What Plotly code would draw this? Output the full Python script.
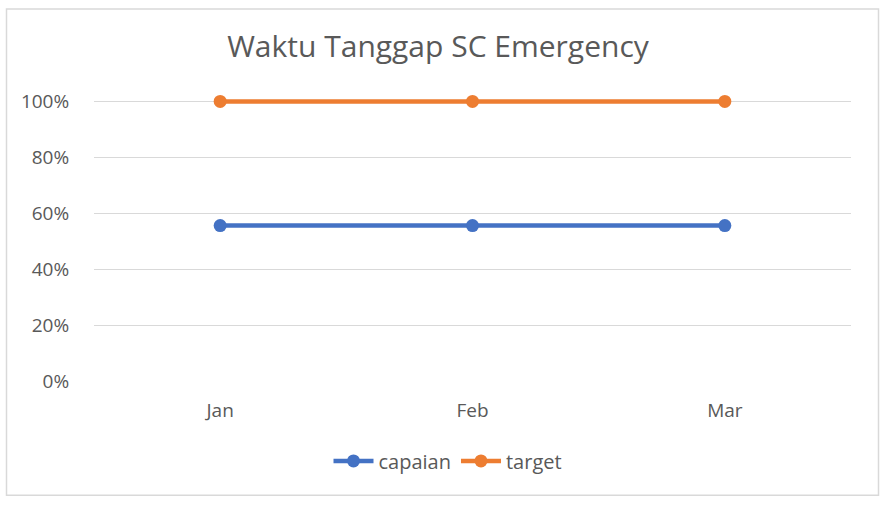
import plotly.graph_objects as go

categories = ["Jan", "Feb", "Mar"]
capaian = [0.556, 0.556, 0.556]
target = [1.0, 1.0, 1.0]
y_ticks = [0, 0.2, 0.4, 0.6, 0.8, 1.0]
y_tick_labels = ["0%", "20%", "40%", "60%", "80%", "100%"]
title_text = "Waktu Tanggap SC Emergency"

W, H = 886, 506
YMAX = 1.03
L, R, B = 94, 35, 125
ph = 280 * YMAX
T = H - B - ph
pw = W - L - R

font = "Open Sans"
grey = "#595959"

fig = go.Figure()
fig.add_trace(go.Scatter(x=categories, y=capaian, name="capaian", mode="lines+markers",
                         line=dict(color="#4472C4", width=4.5), cliponaxis=False,
                         marker=dict(size=13, color="#4472C4")))
fig.add_trace(go.Scatter(x=categories, y=target, name="target", mode="lines+markers",
                         line=dict(color="#ED7D31", width=4.5), cliponaxis=False,
                         marker=dict(size=13, color="#ED7D31")))

def px_x(x):
    return (x - L) / pw

def px_y(y):
    return (H - B - y) / ph

fig.add_shape(type="rect", xref="paper", yref="paper",
              x0=px_x(6.5), x1=px_x(878.5), y0=px_y(495.5), y1=px_y(8.5),
              line=dict(color="#d9d9d9", width=1.5), fillcolor="rgba(0,0,0,0)", layer="below")

fig.update_layout(
    width=W, height=H,
    margin=dict(l=L, r=R, t=T, b=B),
    paper_bgcolor="white", plot_bgcolor="white",
    title=dict(text=title_text, x=(438 - L) / pw, xref="paper", xanchor="center",
               y=1 - 46 / H, yanchor="middle",
               font=dict(family=font, size=30, color=grey)),
    font=dict(family=font, color=grey),
    showlegend=True,
    legend=dict(orientation="h", x=px_x(448), xanchor="center", y=px_y(461), yanchor="middle",
                font=dict(family=font, size=20, color=grey), itemwidth=40,
                bgcolor="rgba(0,0,0,0)", tracegroupgap=0),
    xaxis=dict(type="category", range=[-0.5, 2.5], showgrid=False, zeroline=False,
               showline=False, ticks="outside", ticklen=12, tickcolor="rgba(0,0,0,0)",
               tickfont=dict(family=font, size=19, color=grey), fixedrange=True),
    yaxis=dict(range=[0, YMAX], tickvals=y_ticks, ticktext=y_tick_labels,
               showgrid=True, gridcolor="#d9d9d9", gridwidth=1.2, zeroline=False,
               showline=False, ticks="outside", ticklen=20, tickcolor="rgba(0,0,0,0)",
               tickfont=dict(family=font, size=19, color=grey), fixedrange=True),
)

fig.write_html("out.html")
